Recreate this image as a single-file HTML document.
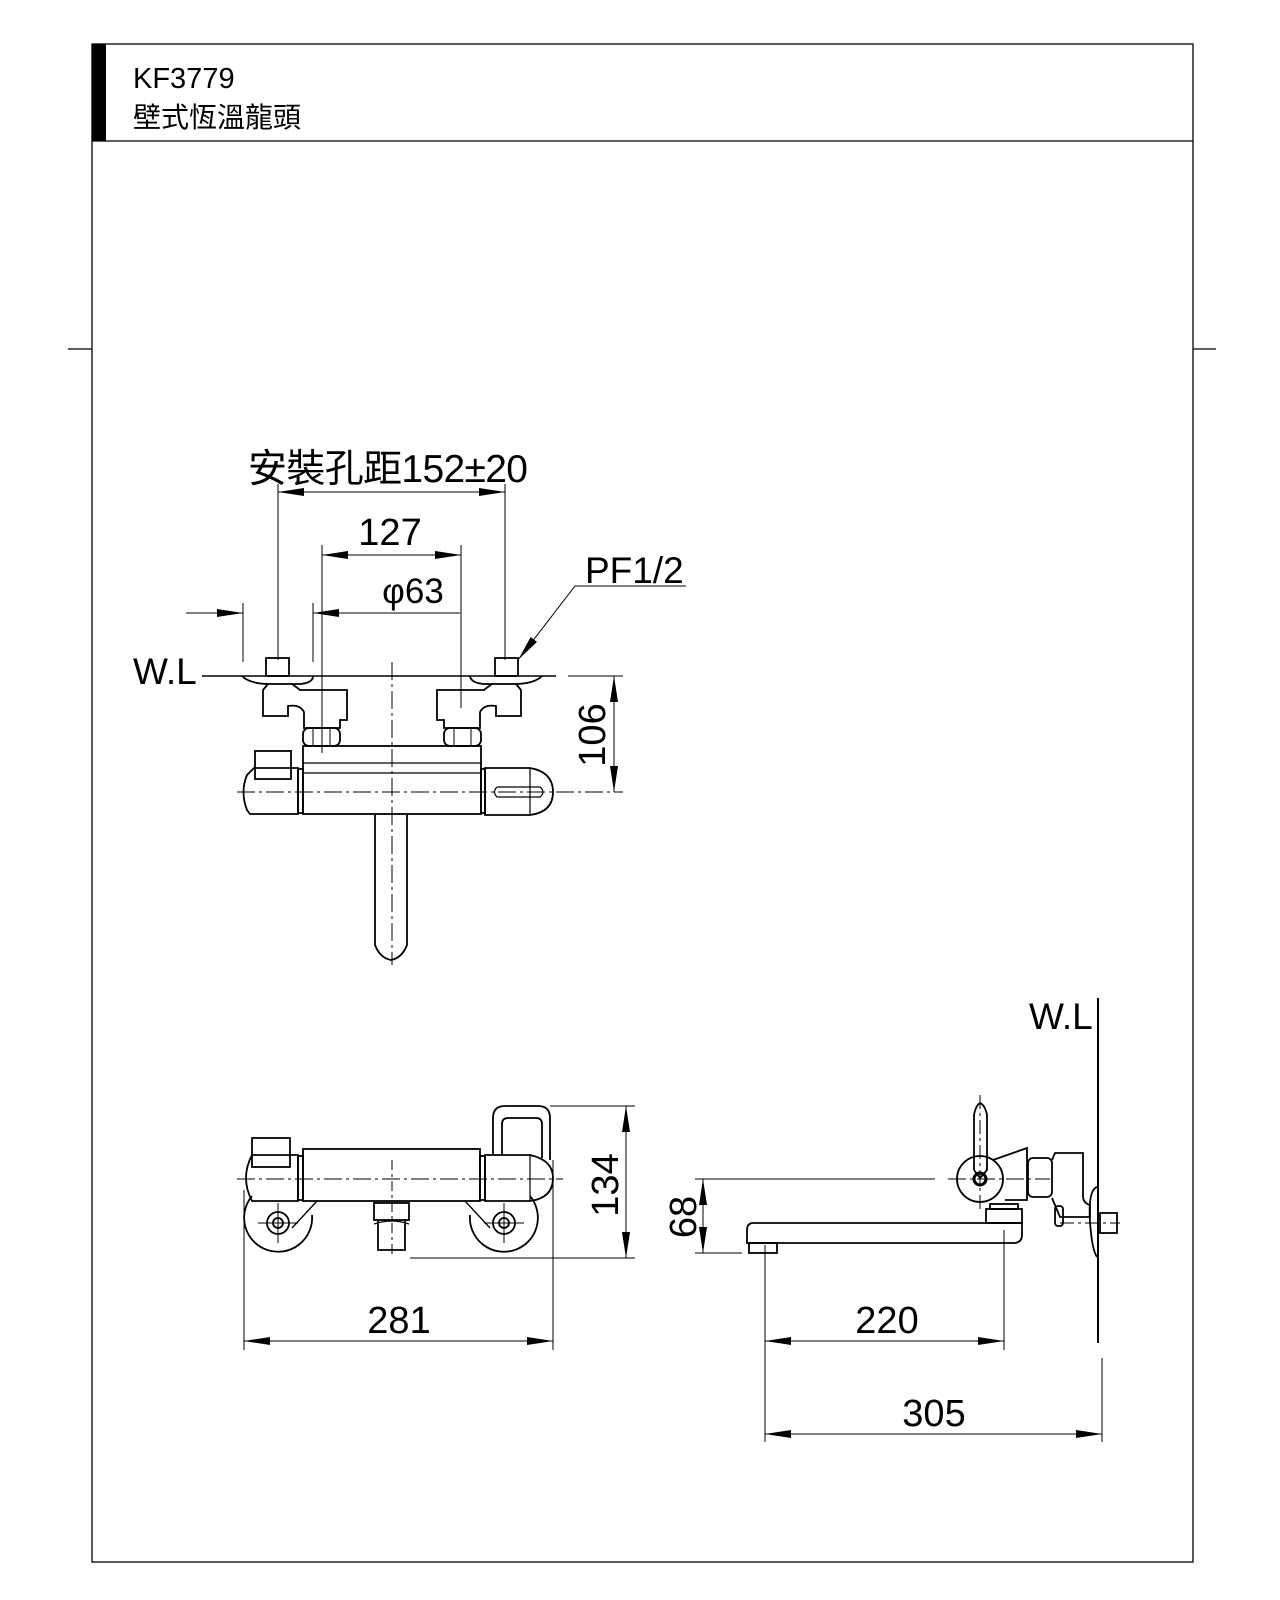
<!DOCTYPE html>
<html><head><meta charset="utf-8"><style>
html,body{margin:0;padding:0;background:#fff}
svg{display:block}
text{font-family:"Liberation Sans","Noto Sans CJK TC",sans-serif;fill:#000}
</style></head><body>
<svg width="1280" height="1600" viewBox="0 0 1280 1600" xmlns="http://www.w3.org/2000/svg">
<defs>
<marker id="a" viewBox="0 0 26 8" refX="26" refY="4" markerWidth="26" markerHeight="8" markerUnits="userSpaceOnUse" orient="auto-start-reverse"><path d="M0,0 L26,4 L0,8z"/></marker>
</defs>
<g fill="none" stroke="#000" stroke-width="1.3">
<rect x="92" y="44" width="1101" height="1518"/>
<line x1="92" y1="141" x2="1193" y2="141"/>
<line x1="68" y1="349" x2="92" y2="349"/>
<line x1="1193" y1="349" x2="1216" y2="349"/>
</g>
<rect x="92" y="44" width="14" height="97" fill="#000"/>
<text x="133" y="88" font-size="29">KF3779</text>
<text x="133" y="127" font-size="28">壁式恆溫龍頭</text>

<!-- ===== TOP VIEW ===== -->
<g fill="none" stroke="#000" stroke-width="1">
<line x1="278" y1="484" x2="278" y2="660"/>
<line x1="505" y1="484" x2="505" y2="660"/>
<line x1="322" y1="545" x2="322" y2="753"/>
<line x1="461" y1="545" x2="461" y2="708"/>
<line x1="243" y1="603" x2="243" y2="662"/>
<line x1="313" y1="603" x2="313" y2="662"/>
<line x1="278" y1="492" x2="505" y2="492" marker-start="url(#a)" marker-end="url(#a)"/>
<line x1="322" y1="555" x2="461" y2="555" marker-start="url(#a)" marker-end="url(#a)"/>
<line x1="186" y1="613" x2="243" y2="613" marker-end="url(#a)"/>
<line x1="460" y1="613" x2="313" y2="613" marker-end="url(#a)"/>
<line x1="202" y1="676" x2="556" y2="676" stroke-width="1.5"/>
<line x1="392" y1="662" x2="392" y2="965" stroke-dasharray="18,4,3,4"/>
<line x1="237" y1="792" x2="623" y2="792" stroke-dasharray="18,4,3,4"/>
<line x1="568" y1="676" x2="623" y2="676"/>
<line x1="614" y1="676" x2="614" y2="792" marker-start="url(#a)" marker-end="url(#a)"/>
<polyline points="686,586 575,586 518,660" marker-end="url(#a)"/>
</g>
<g fill="none" stroke="#000" stroke-width="1.8">
<rect x="266" y="658" width="23" height="18"/>
<path d="M242,676 Q250,684 270,684 L300,684 Q313,683 313,676"/>
<path d="M268,684 L263,690 L263,716 L288,716 L288,706 Q300,704 304,712 L304,728 L340,728 L340,720 L347,720 L347,690 L300,690 Q295,686 292,684"/>
<rect x="303" y="728" width="37" height="18" rx="6"/>
<line x1="313" y1="729" x2="313" y2="745" stroke-width="1"/>
<line x1="330" y1="729" x2="330" y2="745" stroke-width="1"/>
<rect x="495" y="658" width="23" height="18"/>
<path d="M470,676 Q471,683 484,684 L514,684 Q534,684 542,676"/>
<path d="M516,684 L521,690 L521,716 L496,716 L496,706 Q484,704 480,712 L480,728 L444,728 L444,720 L437,720 L437,690 L484,690 Q489,686 492,684"/>
<rect x="444" y="728" width="37" height="18" rx="6"/>
<line x1="454" y1="729" x2="454" y2="745" stroke-width="1"/>
<line x1="471" y1="729" x2="471" y2="745" stroke-width="1"/>
<rect x="303" y="746" width="178" height="68"/>
<line x1="303" y1="763" x2="481" y2="763" stroke-width="1.2"/>
<line x1="303" y1="773" x2="481" y2="773" stroke-width="1.2"/>
<rect x="255" y="751" width="36" height="28"/>
<path d="M298,768 L254,768 L247,775 Q240,792 247,810 L250,814 L298,814 Z"/>
<rect x="298" y="769" width="5" height="44"/>
<rect x="481" y="769" width="4" height="44"/>
<path d="M485,768 L530,768 Q553,772 553,792 Q553,812 530,815 L485,815 Z"/>
<line x1="530" y1="768" x2="530" y2="815" stroke-width="1.2"/>
<path d="M497,787 L540,787 Q546,792 540,797 L497,797 Q492,792 497,787" stroke-width="1.2"/>
<path d="M375,815 L375,945 Q380,958 391,960 Q402,958 407,945 L407,815"/>
</g>
<text x="248" y="482" font-size="39" textLength="280">安裝孔距152±20</text>
<text x="390" y="545" font-size="38" text-anchor="middle">127</text>
<text x="413" y="603" font-size="35" text-anchor="middle">φ63</text>
<text x="585" y="583" font-size="37">PF1/2</text>
<text x="133" y="684" font-size="37">W.L</text>
<text transform="translate(605,735) rotate(-90)" font-size="38" text-anchor="middle">106</text>

<!-- ===== FRONT VIEW ===== -->
<g fill="none" stroke="#000" stroke-width="1">
<line x1="237" y1="1179" x2="563" y2="1179" stroke-dasharray="18,4,3,4"/>
<line x1="392" y1="1160" x2="392" y2="1255" stroke-dasharray="10,4,3,4"/>
<line x1="550" y1="1106" x2="635" y2="1106"/>
<line x1="410" y1="1258" x2="635" y2="1258"/>
<line x1="626" y1="1106" x2="626" y2="1258" marker-start="url(#a)" marker-end="url(#a)"/>
<line x1="244" y1="1190" x2="244" y2="1350"/>
<line x1="553" y1="1160" x2="553" y2="1350"/>
<line x1="244" y1="1341" x2="553" y2="1341" marker-start="url(#a)" marker-end="url(#a)"/>
<line x1="258" y1="1223" x2="298" y2="1223"/><line x1="278" y1="1203" x2="278" y2="1243"/>
<line x1="484" y1="1223" x2="524" y2="1223"/><line x1="504" y1="1203" x2="504" y2="1243"/>
</g>
<g fill="none" stroke="#000" stroke-width="1.8">
<rect x="303" y="1149" width="177" height="52"/>
<rect x="252" y="1138" width="38" height="29"/>
<path d="M298,1155 L252,1155 Q240,1178 252,1201 L298,1201 Z"/>
<rect x="298" y="1156" width="5" height="44"/>
<rect x="480" y="1156" width="5" height="44"/>
<path d="M485,1155 L530,1155 Q553,1160 553,1178 Q553,1198 530,1201 L485,1201 Z"/>
<line x1="530" y1="1155" x2="530" y2="1201" stroke-width="1.2"/>
<path d="M493,1155 L493,1118 Q493,1106 505,1106 L538,1106 Q550,1106 550,1118 L550,1160"/>
<path d="M502,1155 L502,1124 Q502,1118 508,1118 L536,1118 Q542,1118 542,1124 L542,1158"/>
<path d="M252,1196 A34,34 0 1 0 312,1215"/>
<path d="M470,1215 A34,34 0 1 0 530,1196"/>
<line x1="317" y1="1201" x2="292" y2="1228" stroke-width="1.3"/>
<line x1="465" y1="1201" x2="490" y2="1228" stroke-width="1.3"/>
<circle cx="278" cy="1223" r="11"/><circle cx="278" cy="1223" r="5"/>
<circle cx="504" cy="1223" r="11"/><circle cx="504" cy="1223" r="5"/>
<rect x="374" y="1203" width="35" height="17"/>
<path d="M378,1220 L378,1250 L405,1250 L405,1220"/>
<path d="M374,1224 Q392,1218 409,1224" stroke-width="1.2"/>
</g>
<text transform="translate(618,1185) rotate(-90)" font-size="38" text-anchor="middle">134</text>
<text x="399" y="1333" font-size="38" text-anchor="middle">281</text>

<!-- ===== SIDE VIEW ===== -->
<g fill="none" stroke="#000" stroke-width="1">
<line x1="695" y1="1179" x2="935" y2="1179"/>
<line x1="948" y1="1179" x2="1050" y2="1179" stroke-dasharray="18,4,3,4"/>
<line x1="980" y1="1095" x2="980" y2="1210" stroke-dasharray="14,4,3,4"/>
<line x1="695" y1="1253" x2="742" y2="1253"/>
<line x1="703" y1="1179" x2="703" y2="1253" marker-start="url(#a)" marker-end="url(#a)"/>
<line x1="765" y1="1245" x2="765" y2="1442"/>
<line x1="1004" y1="1230" x2="1004" y2="1350"/>
<line x1="765" y1="1341" x2="1004" y2="1341" marker-start="url(#a)" marker-end="url(#a)"/>
<line x1="1102" y1="1358" x2="1102" y2="1442"/>
<line x1="765" y1="1434" x2="1102" y2="1434" marker-start="url(#a)" marker-end="url(#a)"/>
<line x1="1060" y1="1223" x2="1120" y2="1223" stroke-dasharray="14,4,3,4"/>
</g>
<line x1="1098" y1="998" x2="1098" y2="1343" stroke="#000" stroke-width="2"/>
<g fill="none" stroke="#000" stroke-width="1.8">
<path d="M1022,1223 L752,1223 Q747,1224 747,1230 L747,1243 L1015,1243 Q1022,1242 1022,1235 Z"/>
<rect x="749" y="1243" width="28" height="10"/>
<rect x="986" y="1209" width="36" height="14"/>
<rect x="990" y="1204" width="28" height="5"/>
<circle cx="980" cy="1179" r="23"/>
<circle cx="980" cy="1179" r="6" stroke-width="3"/>
<path d="M974,1170 L974,1115 Q976,1105 980,1103 Q985,1105 987,1115 L987,1170 Q982,1176 980,1178 Q977,1174 974,1170"/>
<path d="M993,1160 L1027,1148 L1027,1200 L1005,1200"/>
<rect x="1028" y="1158" width="24" height="39" rx="5"/>
<path d="M1052,1160 L1055,1153 L1083,1153 L1083,1196 Q1083,1203 1090,1205 L1090,1217 L1060,1217 Q1055,1205 1052,1198"/>
<rect x="1055" y="1206" width="8" height="20" rx="3"/>
<path d="M1097,1187 Q1088,1190 1090,1222 Q1092,1250 1097,1257"/>
<rect x="1100" y="1213" width="17" height="20"/>
</g>
<text x="1029" y="1029" font-size="37">W.L</text>
<text transform="translate(696,1217) rotate(-90)" font-size="38" text-anchor="middle">68</text>
<text x="887" y="1333" font-size="38" text-anchor="middle">220</text>
<text x="934" y="1426" font-size="38" text-anchor="middle">305</text>
</svg>
</body></html>
